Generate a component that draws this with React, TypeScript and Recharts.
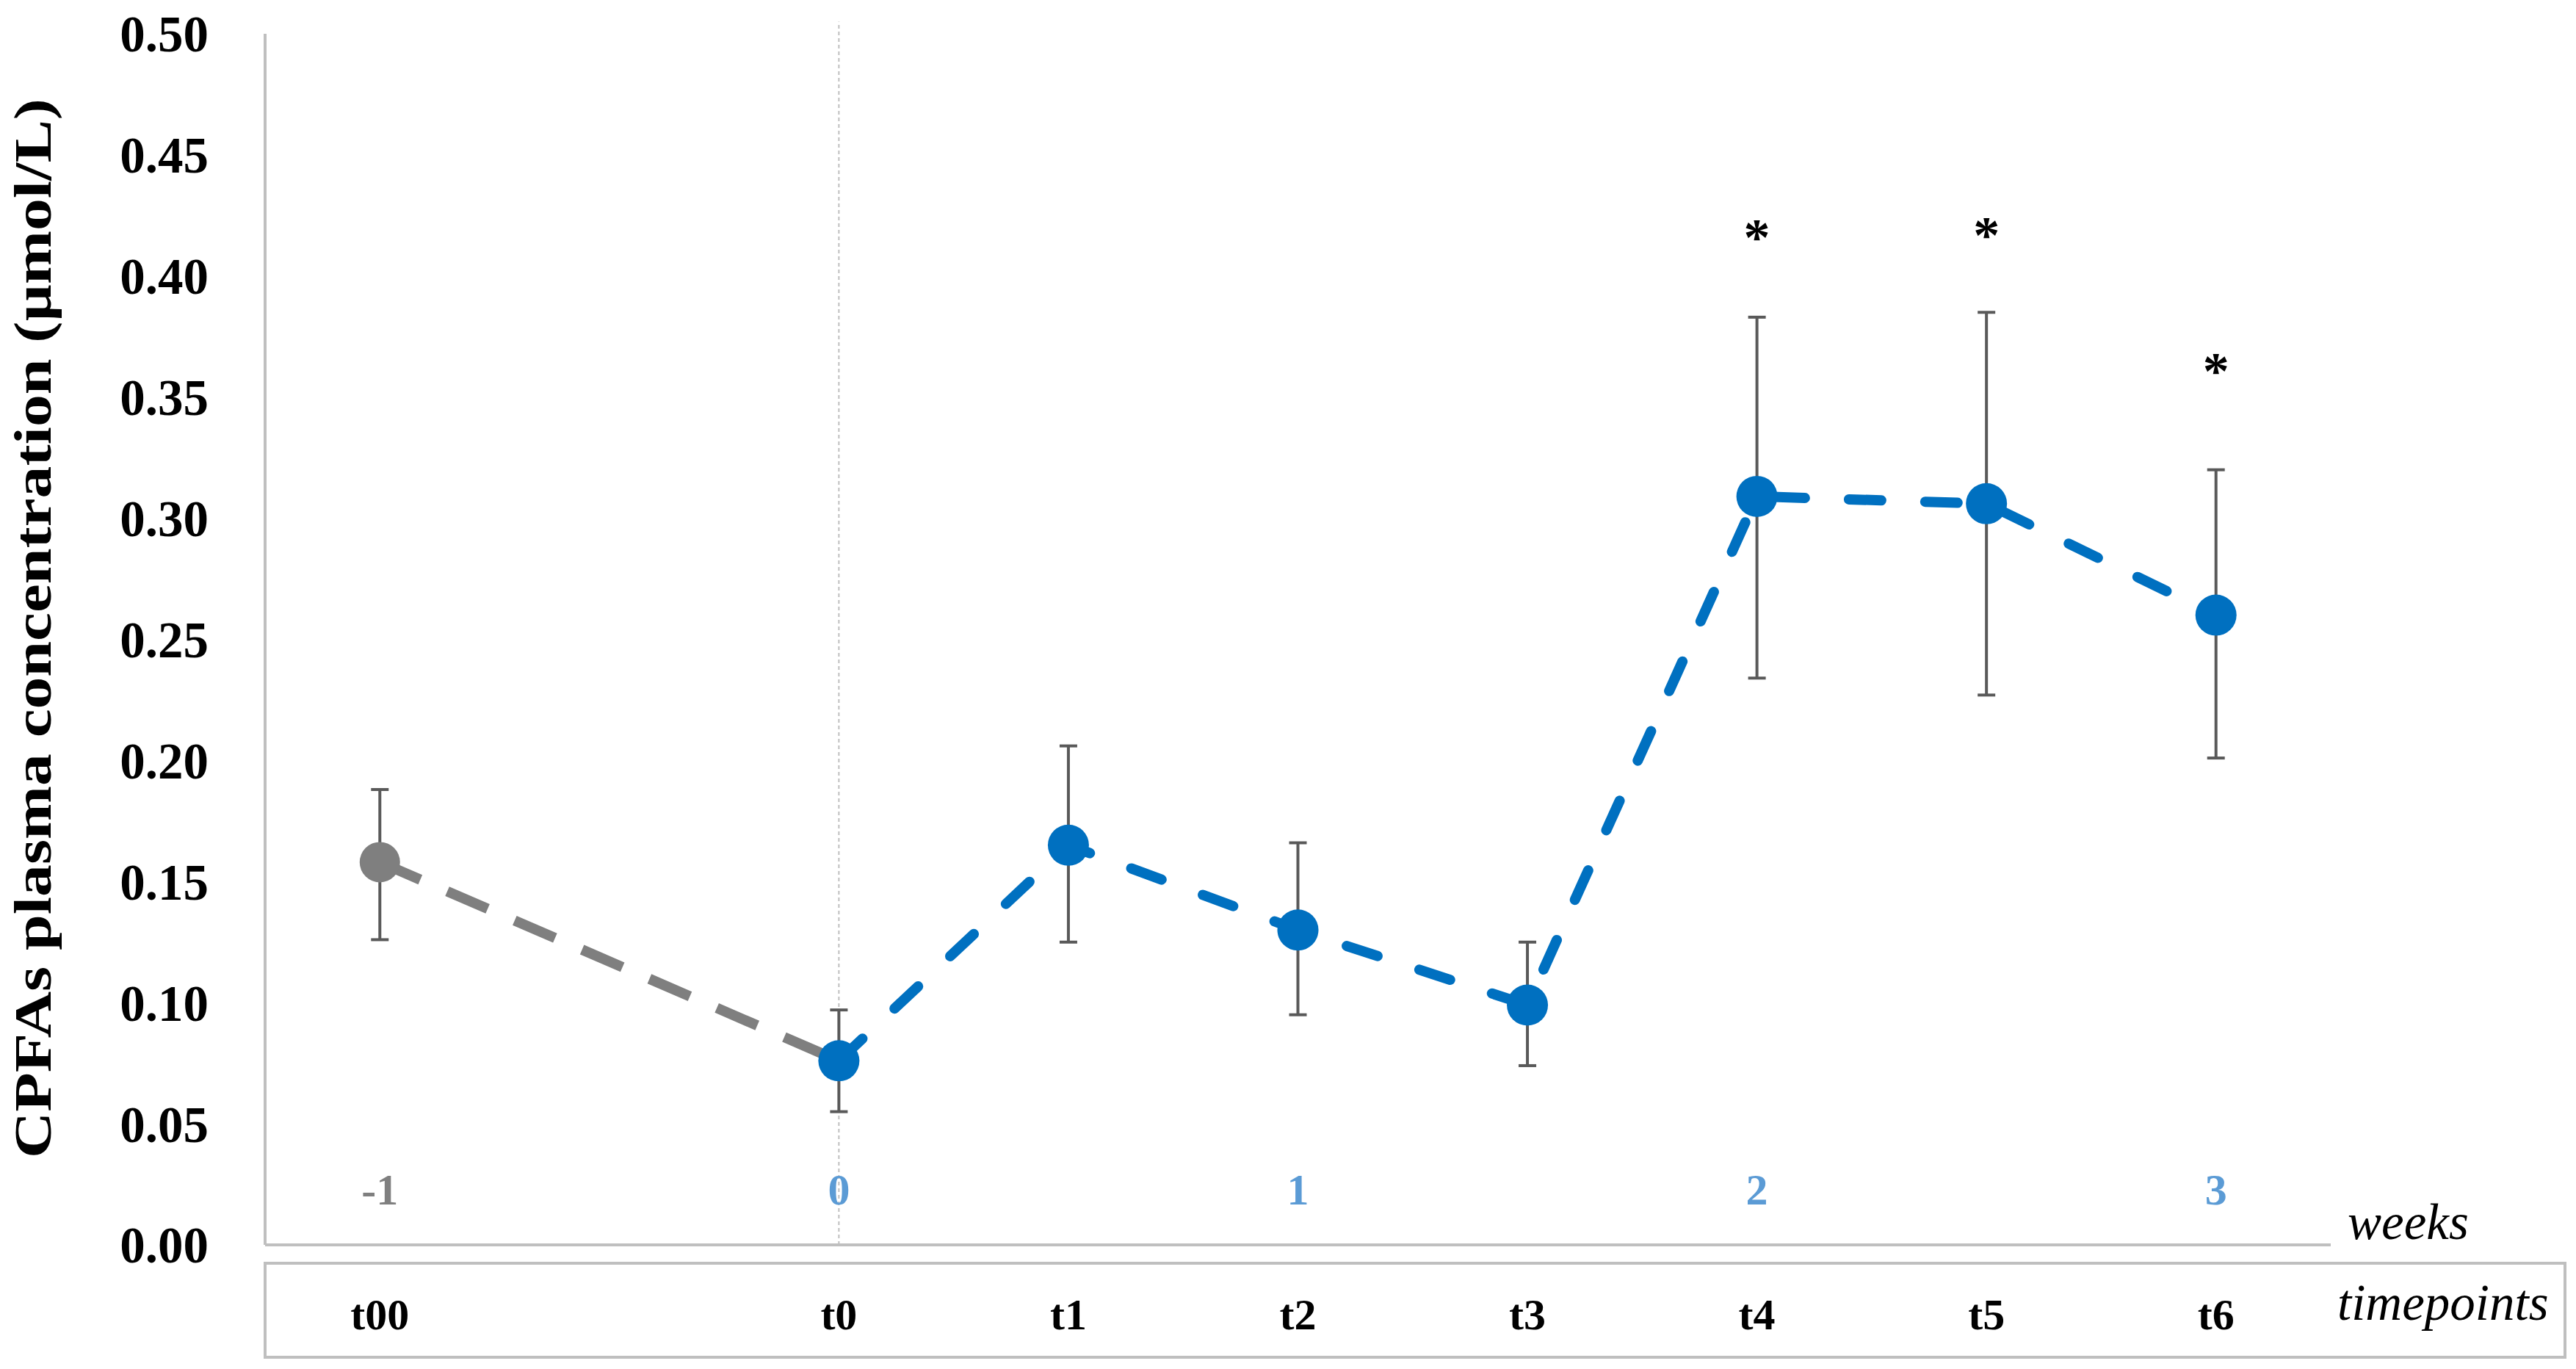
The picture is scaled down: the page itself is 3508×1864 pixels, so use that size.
import React from 'react';
import { LineChart, Line, XAxis, YAxis, ErrorBar, ReferenceLine } from 'recharts';

// Mean CPFAs plasma concentration (µmol/L) with error bar limits
const timepoints = ['t00', 't0', 't1', 't2', 't3', 't4', 't5', 't6'];
const weekPos = [-1, 0, 0.5, 1, 1.5, 2, 2.5, 3];
const meanValues = [0.158, 0.076, 0.165, 0.130, 0.099, 0.309, 0.306, 0.260];
const upperValues = [0.188, 0.097, 0.206, 0.166, 0.125, 0.383, 0.385, 0.320];
const lowerValues = [0.126, 0.055, 0.125, 0.095, 0.074, 0.234, 0.227, 0.201];
// height of the significance asterisks
const sigMarks = [null, null, null, null, null, 0.419, 0.42, 0.364];
const weekLabels = [-1, 0, 1, 2, 3];
const yTicks = [0, 0.05, 0.1, 0.15, 0.2, 0.25, 0.3, 0.35, 0.4, 0.45, 0.5];

const SERIF = '"Liberation Serif", "Times New Roman", serif';
const BLUE = '#0070c0';
const GREY = '#7f7f7f';
const AXIS = '#bfbfbf';

// t00 belongs to the run-in (grey) segment, t0 joins both segments
const data = timepoints.map((tp, i) => {
  const err = [+(meanValues[i] - lowerValues[i]).toFixed(3), +(upperValues[i] - meanValues[i]).toFixed(3)];
  return {
    tp,
    week: weekPos[i],
    pre: i <= 1 ? meanValues[i] : null,
    preErr: i === 0 ? err : null,
    post: i >= 1 ? meanValues[i] : null,
    postErr: i >= 1 ? err : null,
    sig: sigMarks[i],
  };
});

const GreyDot = (p: any) =>
  p.index === 0 && p.cy != null ? (
    <circle key={`g${p.index}`} cx={p.cx} cy={p.cy} r={27.5} fill={GREY} />
  ) : (
    <g key={`g${p.index}`} />
  );

const BlueDot = (p: any) =>
  p.cy != null ? <circle key={`b${p.index}`} cx={p.cx} cy={p.cy} r={28} fill={BLUE} /> : <g key={`b${p.index}`} />;

const StarDot = (p: any) =>
  p.cy != null ? (
    <text key={`s${p.index}`} x={p.cx} y={p.cy + 34} textAnchor="middle" fontFamily={SERIF} fontWeight="bold" fontSize={72} fill="#000">
      *
    </text>
  ) : (
    <g key={`s${p.index}`} />
  );

const TimeTick = (props: any) => {
  const { x, y, payload } = props;
  const v = payload.value;
  const i = weekPos.indexOf(v);
  const isWeek = weekLabels.indexOf(v) >= 0;
  return (
    <g>
      {isWeek && (
        <text x={x} y={y - 55} textAnchor="middle" fontFamily={SERIF} fontWeight="bold" fontSize={60} fill={v < 0 ? GREY : '#5b9bd5'}>
          {v}
        </text>
      )}
      {i >= 0 && (
        <text x={x} y={y + 115} textAnchor="middle" fontFamily={SERIF} fontWeight="bold" fontSize={60} fill="#000">
          {timepoints[i]}
        </text>
      )}
    </g>
  );
};

// timepoints table box and the two row captions
const AxisDecor = (props: any) => {
  const { x, y, width } = props.viewBox;
  const right = x + width;
  return (
    <g>
      <rect x={x} y={y + 25} width={3132} height={128} fill="none" stroke={AXIS} strokeWidth={4} />
      <text x={right + 23} y={y - 8} fontFamily={SERIF} fontStyle="italic" fontSize={69} fill="#000">
        weeks
      </text>
      <text x={right + 9} y={y + 102} fontFamily={SERIF} fontStyle="italic" fontSize={69} fill="#000">
        timepoints
      </text>
    </g>
  );
};

const YTitle = (props: any) => {
  const { y, height } = props.viewBox;
  const cx = 69;
  const cy = y + height / 2 - 15;
  return (
    <text
      x={cx}
      y={cy}
      transform={`rotate(-90 ${cx} ${cy})`}
      textAnchor="middle"
      fontFamily={SERIF}
      fontWeight="bold"
      fontSize={72}
      textLength={1443}
      lengthAdjust="spacingAndGlyphs"
      fill="#000"
    >
      CPFAs plasma concentration (µmol/L)
    </text>
  );
};

export default function App() {
  return (
    <div style={{ position: 'absolute', left: 0, top: 0, width: 3508, height: 1864, background: '#fff' }}>
      <LineChart width={3508} height={1864} data={data} margin={{ top: 46, right: 334, left: 0, bottom: 19 }}>
        <XAxis
          dataKey="week"
          type="number"
          domain={[-1.25, 3.25]}
          ticks={weekPos}
          interval={0}
          height={150}
          axisLine={{ stroke: AXIS, strokeWidth: 4 }}
          tickLine={false}
          tickSize={0}
          tickMargin={0}
          tick={<TimeTick />}
          label={<AxisDecor />}
        />
        <YAxis
          type="number"
          domain={[0, 0.5]}
          ticks={yTicks}
          interval={0}
          width={361}
          axisLine={{ stroke: AXIS, strokeWidth: 4 }}
          tickLine={false}
          tickSize={0}
          tickMargin={77}
          tickFormatter={(v: number) => v.toFixed(2)}
          tick={{ fontFamily: SERIF, fontWeight: 'bold', fontSize: 69, fill: '#000' }}
          label={<YTitle />}
        />
        <ReferenceLine
          segment={[
            { x: 0, y: 0 },
            { x: 0, y: 0.505 },
          ]}
          ifOverflow="visible"
          stroke={AXIS}
          strokeWidth={2}
          strokeDasharray="5 4"
        />
        <Line
          type="linear"
          dataKey="pre"
          stroke={GREY}
          strokeWidth={14}
          strokeDasharray="60 40"
          dot={GreyDot}
          activeDot={false}
          isAnimationActive={false}
        >
          <ErrorBar dataKey="preErr" width={12} strokeWidth={4} stroke="#595959" direction="y" />
        </Line>
        <Line
          type="linear"
          dataKey="post"
          stroke={BLUE}
          strokeWidth={14}
          strokeDasharray="44 60"
          strokeLinecap="round"
          dot={BlueDot}
          activeDot={false}
          isAnimationActive={false}
        >
          <ErrorBar dataKey="postErr" width={12} strokeWidth={4} stroke="#595959" direction="y" />
        </Line>
        <Line dataKey="sig" stroke="none" dot={StarDot} activeDot={false} isAnimationActive={false} />
      </LineChart>
    </div>
  );
}
